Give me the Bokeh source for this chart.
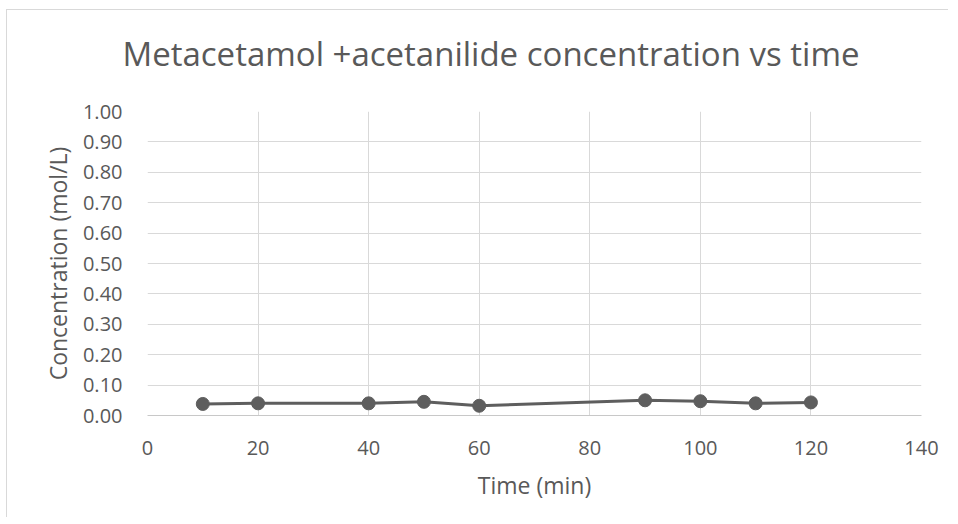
from bokeh.plotting import figure
from bokeh.models import FixedTicker, NumeralTickFormatter, Title, Range1d
from bokeh.embed import file_html
from bokeh.resources import INLINE

# Data
time_min = [10, 20, 40, 50, 60, 90, 100, 110, 120]
concentration = [0.038, 0.040, 0.040, 0.045, 0.032, 0.050, 0.047, 0.040, 0.043]
x_ticks = [0, 20, 40, 60, 80, 100, 120, 140]
y_ticks = [0.0, 0.1, 0.2, 0.3, 0.4, 0.5, 0.6, 0.7, 0.8, 0.9, 1.0]
title_text = "Metacetamol +acetanilide concentration vs time"
x_label = "Time (min)"
y_label = "Concentration (mol/L)"

FONT = "Open Sans"
TXT = "#595959"
GRID = "#d9d9d9"
SERIES = "#5e5e5e"

p = figure(width=942, height=508, output_backend="svg", toolbar_location=None,
           x_range=Range1d(0, 140), y_range=Range1d(0, 1.0),
           min_border_left=140, min_border_right=28, min_border_top=101, min_border_bottom=103)
p.margin = (9, 0, 0, 6)
p.styles = {"border-left": "1px solid #d9d9d9", "border-top": "1px solid #d9d9d9"}
p.outline_line_color = None
p.background_fill_color = "white"
p.border_fill_color = "white"

p.xaxis.ticker = FixedTicker(ticks=x_ticks)
p.yaxis.ticker = FixedTicker(ticks=y_ticks)
p.yaxis.formatter = NumeralTickFormatter(format="0.00")

for ax in (p.xaxis[0], p.yaxis[0]):
    ax.major_tick_line_color = None
    ax.minor_tick_line_color = None
    ax.major_label_text_font = FONT
    ax.major_label_text_font_size = "20px"
    ax.major_label_text_color = TXT
    ax.axis_label_text_font = FONT
    ax.axis_label_text_font_size = "23px"
    ax.axis_label_text_font_style = "normal"
    ax.axis_label_text_color = TXT

p.xaxis.axis_line_color = "#c8c8c8"
p.xaxis.axis_line_width = 1
p.yaxis.axis_line_color = None
p.xaxis.major_label_standoff = 19
p.yaxis.major_label_standoff = 19
p.xaxis.axis_label = x_label
p.yaxis.axis_label = y_label
p.xaxis.axis_label_standoff = 11
p.yaxis.axis_label_standoff = 6

p.xgrid.grid_line_color = GRID
p.ygrid.grid_line_color = GRID
p.xgrid.grid_line_width = 1
p.ygrid.grid_line_width = 1

p.line(time_min, concentration, line_color=SERIES, line_width=3)
p.scatter(time_min, concentration, size=13, fill_color=SERIES, line_color=SERIES)

spacer = Title(text=" ", text_font_size="14px", text_font=FONT)
p.add_layout(spacer, "above")
title = Title(text=title_text, text_font=FONT, text_font_size="33px", text_color=TXT,
              text_font_style="normal", align="left", offset=-25)
p.add_layout(title, "above")

open("out.html", "w").write(file_html(p, INLINE))
